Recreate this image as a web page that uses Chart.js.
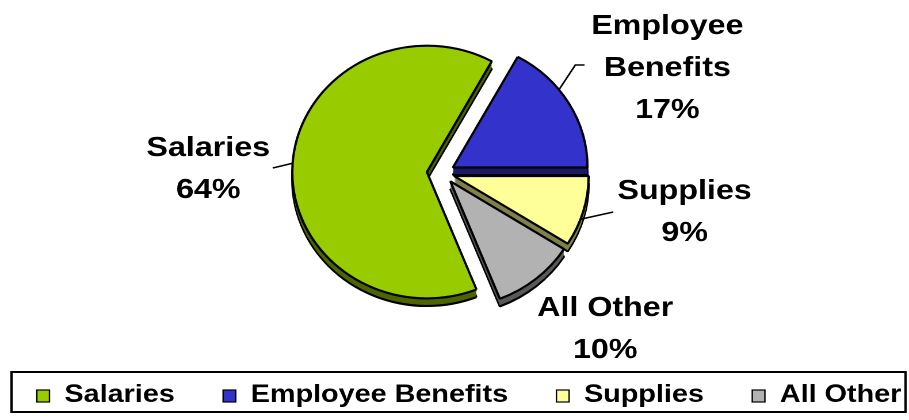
<!DOCTYPE html>
<html>
<head>
<meta charset="utf-8">
<script src="https://cdn.jsdelivr.net/npm/chart.js@4.4.1/dist/chart.umd.min.js"></script>
<style>
  html, body { margin: 0; padding: 0; background: #ffffff; overflow: hidden; }
  /* the original chart is stretched sideways, so draw narrow and widen */
  #wrap { width: 790px; height: 420px; transform: scaleX(1.1506); transform-origin: 0 0; }
</style>
</head>
<body>
<div id="wrap"><canvas id="costChart" width="790" height="420"></canvas></div>
<script>

// DATA

const categories = ["Salaries", "Employee Benefits", "Supplies", "All Other"];

const shares = [64, 17, 9, 10];

const labelLines = [["Salaries"], ["Employee", "Benefits"], ["Supplies"], ["All Other"]];


// STYLE

const sliceColors = ["#99cc00", "#3333cc", "#ffff99", "#b2b2b2"];
const sideColors = ["#4d6600", "#1a1a66", "#80804d", "#595959"];
// how far each slice is pulled out (px)
const explode = [14, 10, 10, 10];
const depth = 6;
// pie is a bit taller than wide
const tiltY = 1.08;

// first baseline of each label, relative to the pie centre
const labelPos = [[-204, -17], [195, -139], [210, 26], [141, 143]];
const lineGap = 42;

// leader lines: angle on the rim (deg, clockwise from top) then points relative to centre
const leaders = [
    { angle: 274, pts: [[-148, -5]] },
    { angle: 52, pts: [[115, -108], [123, -108]] },
    { angle: 110, pts: [[148, 39]] },
    null
];

const legendBox = { x: 10, y: 372, w: 777, h: 40 };


// EXPLODE SLICES (move each arc centre out along its middle angle)

const explodeSlices = {
    id: "explodeSlices",
    afterDatasetUpdate(chart, args) {
        const arcs = chart.getDatasetMeta(args.index).data;
        arcs.forEach((arc, i) => {
            const mid = (arc.startAngle + arc.endAngle) / 2;
            arc.x += Math.cos(mid) * explode[i];
            arc.y += Math.sin(mid) * explode[i];
        });
    }
};


// STRETCH THE PIE VERTICALLY

const pieTilt = {
    id: "pieTilt",
    beforeDatasetsDraw(chart) {
        const ctx = chart.ctx;
        const cy = (chart.chartArea.top + chart.chartArea.bottom) / 2;
        ctx.save();
        ctx.translate(0, cy);
        ctx.scale(1, tiltY);
        ctx.translate(0, -cy);
    },
    afterDatasetsDraw(chart) {
        chart.ctx.restore();
    }
};


// 3D SIDE OF THE PIE

const pieSide = {
    id: "pieSide",
    beforeDatasetsDraw(chart) {
        const ctx = chart.ctx;
        const arcs = chart.getDatasetMeta(0).data;

        const drawArc = (arc, shift, fill, border, width) => {
            const orig = arc.options;
            arc.options = Object.assign({}, orig, {
                backgroundColor: fill,
                borderColor: border,
                borderWidth: width
            });
            ctx.save();
            ctx.translate(0, shift);
            arc.draw(ctx);
            ctx.restore();
            arc.options = orig;
        };

        arcs.forEach((arc) => drawArc(arc, depth + 1, "#000000", "#000000", 2));
        for (let d = depth; d >= 1; d--) {
            arcs.forEach((arc, i) => drawArc(arc, d, sideColors[i], sideColors[i], 0));
        }
    }
};


// SLICE LABELS

const sliceLabels = {
    id: "sliceLabels",
    afterDatasetsDraw(chart) {
        const ctx = chart.ctx;
        const arcs = chart.getDatasetMeta(0).data;
        const area = chart.chartArea;
        const cx = (area.left + area.right) / 2;
        const cy = (area.top + area.bottom) / 2;

        ctx.save();
        ctx.fillStyle = "#000000";
        ctx.strokeStyle = "#000000";
        ctx.lineWidth = 1.5;
        ctx.font = "bold 28px 'Liberation Sans', Arial, sans-serif";
        ctx.textAlign = "center";
        ctx.textBaseline = "alphabetic";

        arcs.forEach((arc, i) => {
            const lines = labelLines[i].concat(shares[i] + "%");
            lines.forEach((t, k) => {
                ctx.fillText(t, cx + labelPos[i][0], cy + labelPos[i][1] + k * lineGap);
            });

            const lead = leaders[i];
            if (!lead) return;
            const t = (lead.angle - 90) * Math.PI / 180;
            const rx = arc.x + Math.cos(t) * arc.outerRadius;
            const ry = cy + (arc.y + Math.sin(t) * arc.outerRadius - cy) * tiltY;
            ctx.beginPath();
            ctx.moveTo(rx, ry);
            lead.pts.forEach((p) => ctx.lineTo(cx + p[0], cy + p[1]));
            ctx.stroke();
        });
        ctx.restore();
    }
};


// BOXED LEGEND

const boxLegend = {
    id: "boxLegend",
    afterDraw(chart) {
        const ctx = chart.ctx;
        ctx.save();
        ctx.strokeStyle = "#000000";
        ctx.lineWidth = 2;
        ctx.strokeRect(legendBox.x, legendBox.y, legendBox.w, legendBox.h);

        ctx.font = "bold 25px 'Liberation Sans', Arial, sans-serif";
        ctx.textBaseline = "alphabetic";
        ctx.textAlign = "left";

        let x = legendBox.x + 22;
        categories.forEach((name, i) => {
            ctx.fillStyle = sliceColors[i];
            ctx.fillRect(x, 390, 11, 12);
            ctx.lineWidth = 1.2;
            ctx.strokeRect(x, 390, 11, 12);
            x += 11 + 13;
            ctx.fillStyle = "#000000";
            ctx.fillText(name, x, 402);
            x += ctx.measureText(name).width + 42;
        });
        ctx.restore();
    }
};


// CREATE CHART

const ctx = document.getElementById("costChart");

new Chart(ctx, {

    type: "pie",

    data: {
        labels: categories,
        datasets: [{
            data: shares,
            backgroundColor: sliceColors,
            borderColor: "#000000",
            borderWidth: 2
        }]
    },

    options: {
        responsive: false,
        devicePixelRatio: 2,
        animation: false,
        rotation: 158.4,
        radius: 117,
        layout: {
            padding: { left: 0, right: 20, top: 0, bottom: 74 }
        },
        plugins: {
            legend: { display: false },
            tooltip: { enabled: false }
        }
    },

    plugins: [explodeSlices, pieTilt, pieSide, sliceLabels, boxLegend]
});

</script>
</body>
</html>
